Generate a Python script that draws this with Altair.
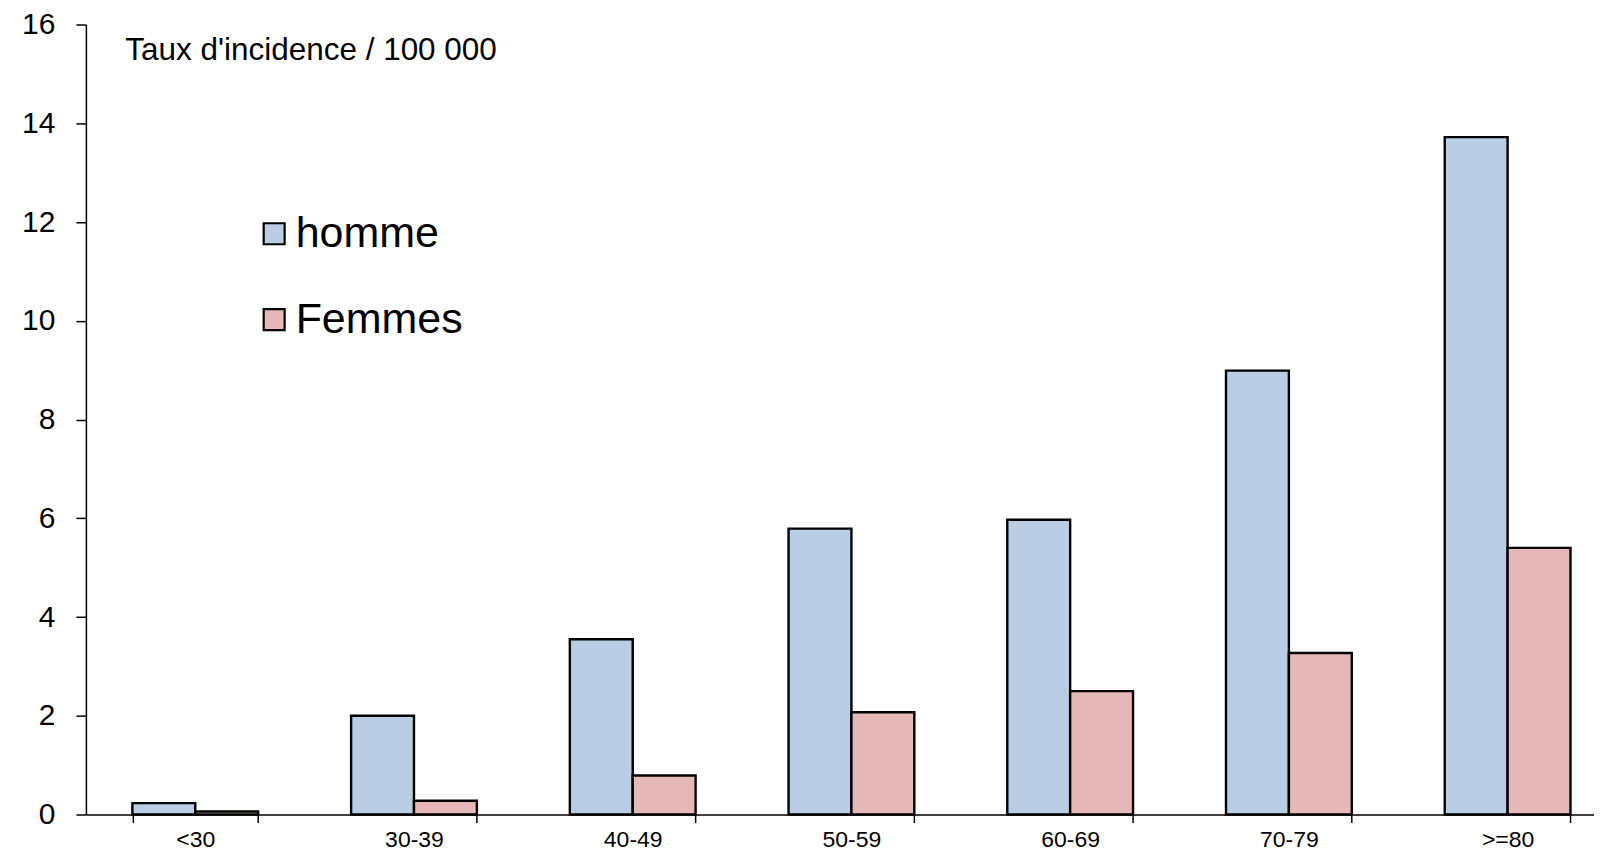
import altair as alt
import pandas as pd

ages = ["<30", "30-39", "40-49", "50-59", "60-69", "70-79", ">=80"]
homme = [0.23, 2.0, 3.55, 5.79, 5.97, 8.99, 13.72]
femmes = [0.06, 0.28, 0.79, 2.07, 2.50, 3.27, 5.40]
series = ["homme", "Femmes"]
colors = ["#B9CDE5", "#E6B9B8"]
y_ticks = [0, 2, 4, 6, 8, 10, 12, 14, 16]

rows = []
for a, h, f in zip(ages, homme, femmes):
    rows.append({"age": a, "sexe": "homme", "taux": h})
    rows.append({"age": a, "sexe": "Femmes", "taux": f})
df = pd.DataFrame(rows)

FONT = "Liberation Sans"

chart = alt.Chart(df).mark_bar(stroke="black", strokeWidth=2.4, opacity=1).encode(
    x=alt.X(
        "age:N", sort=ages,
        scale=alt.Scale(paddingInner=0.425, paddingOuter=0.2125, range=[0, 1533]),
        axis=alt.Axis(title=None, labelAngle=0, labelFontSize=23, labelFont=FONT,
                      labelColor="black", tickBand="extent", tickSize=8,
                      tickColor="black", domainColor="black", labelPadding=6,
                      domainWidth=1.5, tickWidth=1.5),
    ),
    xOffset=alt.XOffset("sexe:N", sort=series),
    y=alt.Y(
        "taux:Q",
        scale=alt.Scale(domain=[0, 16], nice=False),
        axis=alt.Axis(values=y_ticks, title="Taux d'incidence / 100 000",
                      titleAngle=0, titleX=39, titleY=35, titleAlign="left",
                      titleBaseline="alphabetic", titleFontSize=31.5,
                      titleFontWeight="normal", titleFont=FONT, titleColor="black",
                      grid=False, labelFontSize=30, labelFont=FONT,
                      labelColor="black", labelPadding=21, tickSize=10,
                      tickColor="black", domainColor="black",
                      domainWidth=1.5, tickWidth=1.5),
    ),
    color=alt.Color(
        "sexe:N", sort=series,
        scale=alt.Scale(domain=series, range=colors),
        legend=alt.Legend(orient="none", legendX=167, legendY=188, title=None,
                          symbolType="square", symbolSize=441,
                          symbolStrokeColor="black", symbolStrokeWidth=2.2,
                          symbolOpacity=1, labelFontSize=43, labelFont=FONT,
                          labelColor="black", labelOffset=0, labelLimit=400,
                          rowPadding=42, padding=0, symbolOffset=0),
    ),
).properties(
    width=1510, height=791,
    autosize=alt.AutoSizeParams(type="none"),
    padding={"left": 78, "top": 16, "right": 0, "bottom": 38},
).configure_view(stroke=None)

chart.save("out.html", embed_options={"renderer": "svg", "actions": False})
